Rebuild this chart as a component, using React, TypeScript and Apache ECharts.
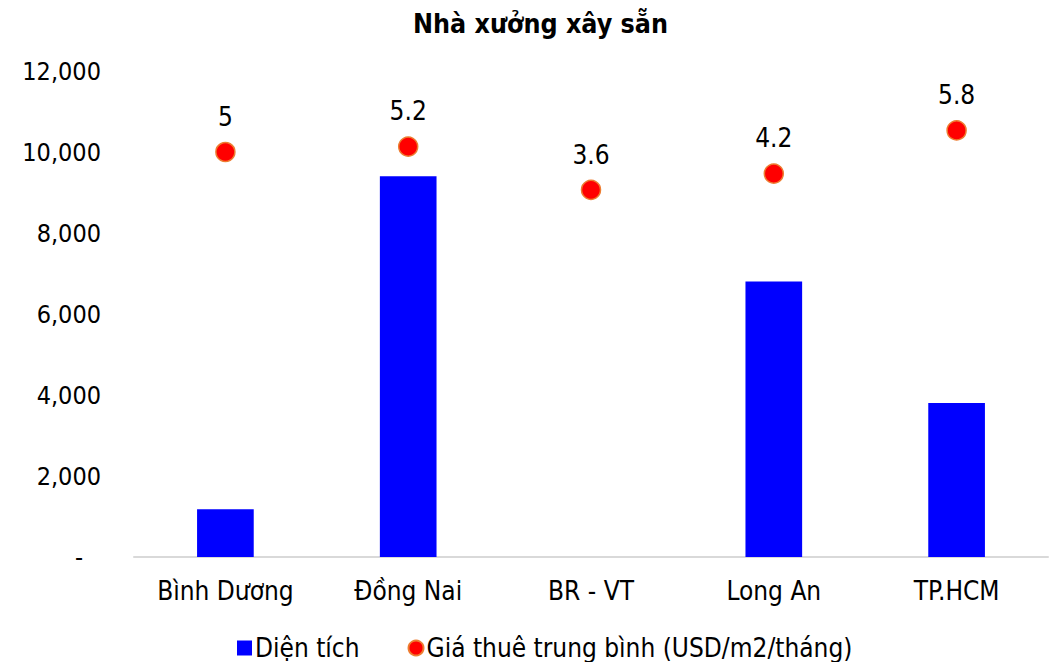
import React, { useEffect, useRef } from "react";
import * as echarts from "echarts";

const categories = ["Bình Dương", "Đồng Nai", "BR - VT", "Long An", "TP.HCM"];
const areaValues = [1180, 9400, 0, 6800, 3800];
const rentValues = [5, 5.2, 3.6, 4.2, 5.8];
const areaName = "Diện tích";
const rentName = "Giá thuê trung bình (USD/m2/tháng)";
const titleText = "Nhà xưởng xây sẵn";

const FONT = "'DejaVu Sans Condensed', 'DejaVu Sans', sans-serif";

export default function App() {
  const ref = useRef<HTMLDivElement>(null);
  useEffect(() => {
    if (!ref.current) return;
    const chart = echarts.init(ref.current, undefined, { renderer: "svg" });
    chart.setOption({
      animation: false,
      backgroundColor: "#ffffff",
      textStyle: { fontFamily: FONT },
      title: {
        text: titleText,
        left: 408,
        top: 5,
        textStyle: { fontFamily: FONT, fontSize: 26.6, fontWeight: "bold", color: "#000" },
      },
      grid: { left: 134, right: 10, top: 71, bottom: 105 },
      legend: {
        bottom: -4,
        left: 232,
        itemGap: 48,
        itemWidth: 15,
        itemHeight: 15,
        textStyle: { fontFamily: FONT, fontSize: 26, color: "#000", padding: [0, 0, 0, -2] },
        data: [
          { name: areaName, icon: "rect" },
          { name: rentName, icon: "circle", itemStyle: { color: "#FF0000", borderColor: "#ED7D31", borderWidth: 2 } },
        ],
      },
      xAxis: {
        type: "category",
        data: categories,
        axisLine: { show: true, lineStyle: { color: "#D9D9D9", width: 2 } },
        axisTick: { show: false },
        axisLabel: { fontFamily: FONT, fontSize: 26, color: "#000", margin: 21 },
      },
      yAxis: [
        {
          type: "value",
          min: 0,
          max: 12000,
          interval: 2000,
          axisLine: { show: false },
          axisTick: { show: false },
          splitLine: { show: false },
          axisLabel: {
            fontFamily: FONT,
            fontSize: 25,
            color: "#000",
            margin: 33,
            formatter: (v: number) => (v === 0 ? "{d|-}" : v.toLocaleString("en-US")),
            rich: { d: { fontFamily: FONT, fontSize: 25, color: "#000", padding: [0, 18, 0, 0] } },
          },
        },
        {
          type: "value",
          min: -10,
          max: 8,
          show: false,
          splitLine: { show: false },
        },
      ],
      series: [
        {
          name: areaName,
          type: "bar",
          data: areaValues,
          barWidth: "31%",
          itemStyle: { color: "#0000FF" },
          yAxisIndex: 0,
        },
        {
          name: rentName,
          type: "scatter",
          yAxisIndex: 1,
          data: rentValues,
          symbol: "circle",
          symbolSize: 19,
          itemStyle: { color: "#FF0000", borderColor: "#ED7D31", borderWidth: 1.5, opacity: 1 },
          label: {
            show: true,
            position: "top",
            distance: 12,
            fontFamily: FONT,
            fontSize: 26,
            color: "#000",
          },
        },
      ],
    });
    return () => chart.dispose();
  }, []);
  return <div ref={ref} style={{ width: 1058, height: 662, position: "absolute", left: 0, top: 0 }} />;
}
